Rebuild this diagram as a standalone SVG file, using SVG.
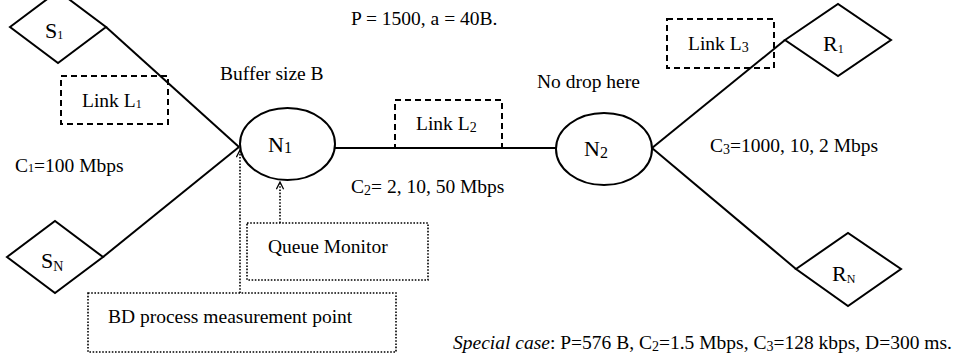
<svg xmlns="http://www.w3.org/2000/svg" width="963" height="360" viewBox="0 0 963 360">
  <style>
    .lbl { font-size: 19.5px; }
    .node { font-size: 22px; }
    .shape { fill: #fff; stroke: #000; stroke-width: 2; }
    .link { fill: none; stroke: #000; stroke-width: 2; }
    .dash { fill: none; stroke: #000; stroke-width: 2; stroke-dasharray: 6 4; }
    .dot { fill: none; stroke: #000; stroke-width: 1.6; stroke-dasharray: 1.6 1.6; }
  </style>
  <defs>
    <marker id="chev" viewBox="0 0 10 10" refX="9" refY="5" markerWidth="9" markerHeight="9" markerUnits="userSpaceOnUse" orient="auto">
      <path d="M1,1 L9,5 L1,9" fill="none" stroke="#000" stroke-width="1.4"/>
    </marker>
  </defs>

  <rect width="963" height="360" fill="#fff"/>

  <!-- connectors -->
  <g id="connectors">
    <line class="link" x1="106" y1="27" x2="239" y2="147"/>
    <line class="link" x1="103" y1="257" x2="239" y2="147"/>
    <line class="link" x1="335" y1="148" x2="556" y2="148"/>
    <line class="link" x1="652" y1="148" x2="785" y2="40"/>
    <line class="link" x1="652" y1="148" x2="796" y2="269"/>
    <line class="dot" x1="240" y1="293" x2="240" y2="150" marker-end="url(#chev)"/>
    <line class="dot" x1="280" y1="223" x2="280" y2="182" marker-end="url(#chev)"/>
  </g>

  <g font-family="'Liberation Serif', 'Times New Roman', Times, 'DejaVu Serif', serif" fill="#000">
  <!-- link annotations -->
  <g id="link-l1">
    <rect class="dash" x="61" y="76" width="107" height="48"/>
    <text class="lbl" x="82" y="107">Link L<tspan font-size="12" dy="1">1</tspan></text>
  </g>
  <g id="link-l2">
    <rect class="dash" x="395" y="100" width="107" height="48"/>
    <text class="lbl" x="416" y="130">Link L<tspan font-size="14" dy="2">2</tspan></text>
  </g>
  <g id="link-l3">
    <rect class="dash" x="667" y="19" width="107" height="49"/>
    <text class="lbl" x="688" y="50">Link L<tspan font-size="14" dy="2">3</tspan></text>
  </g>

  <!-- nodes -->
  <g id="s1">
    <polygon class="shape" points="10,27 58,-9 106,27 58,63"/>
    <text class="node" x="45" y="38">S<tspan font-size="12" dy="1">1</tspan></text>
  </g>
  <g id="sn">
    <polygon class="shape" points="7,257 55,221 103,257 55,293"/>
    <text class="node" x="41" y="268">S<tspan font-size="14" dy="3">N</tspan></text>
  </g>
  <g id="n1">
    <ellipse class="shape" cx="287.5" cy="144" rx="47.5" ry="36"/>
    <text class="node" x="268" y="152">N<tspan font-size="16" dy="1">1</tspan></text>
  </g>
  <g id="n2">
    <ellipse class="shape" cx="604" cy="149" rx="48" ry="36"/>
    <text class="node" x="584" y="156">N<tspan font-size="16" dy="2">2</tspan></text>
  </g>
  <g id="r1">
    <polygon class="shape" points="785,40 838,4 891,40 838,76"/>
    <text class="node" x="823" y="51">R<tspan font-size="12" dy="2">1</tspan></text>
  </g>
  <g id="rn">
    <polygon class="shape" points="796,269 848,233 901,269 848,306"/>
    <text class="node" x="832" y="281">R<tspan font-size="12" dy="2">N</tspan></text>
  </g>

  <!-- monitoring boxes -->
  <g id="queue-monitor">
    <rect class="dot" x="247" y="223" width="181" height="57"/>
    <text class="lbl" x="268" y="253">Queue Monitor</text>
  </g>
  <g id="bd-point">
    <rect class="dot" x="88" y="293" width="308" height="59"/>
    <text class="lbl" x="108" y="323">BD process measurement point</text>
  </g>

  <!-- free labels -->
  <g id="labels">
    <text class="lbl" x="351" y="25">P = 1500, a = 40B.</text>
    <text class="lbl" x="220" y="80">Buffer size B</text>
    <text class="lbl" x="537" y="88">No drop here</text>
    <text class="lbl" x="15" y="172">C<tspan font-size="12">1</tspan>=100 Mbps</text>
    <text class="lbl" x="351" y="193">C<tspan font-size="14" dy="2">2</tspan><tspan dy="-2">= 2, 10, 50 Mbps</tspan></text>
    <text class="lbl" x="710" y="152">C<tspan font-size="14" dy="2">3</tspan><tspan dy="-2">=1000, 10, 2 Mbps</tspan></text>
    <text class="lbl" x="453" y="349"><tspan font-style="italic">Special case</tspan>: P=576 B, C<tspan font-size="14" dy="2">2</tspan><tspan dy="-2">=1.5 Mbps, C</tspan><tspan font-size="14" dy="2">3</tspan><tspan dy="-2">=128 kbps, D=300 ms.</tspan></text>
  </g>
  </g>
</svg>
